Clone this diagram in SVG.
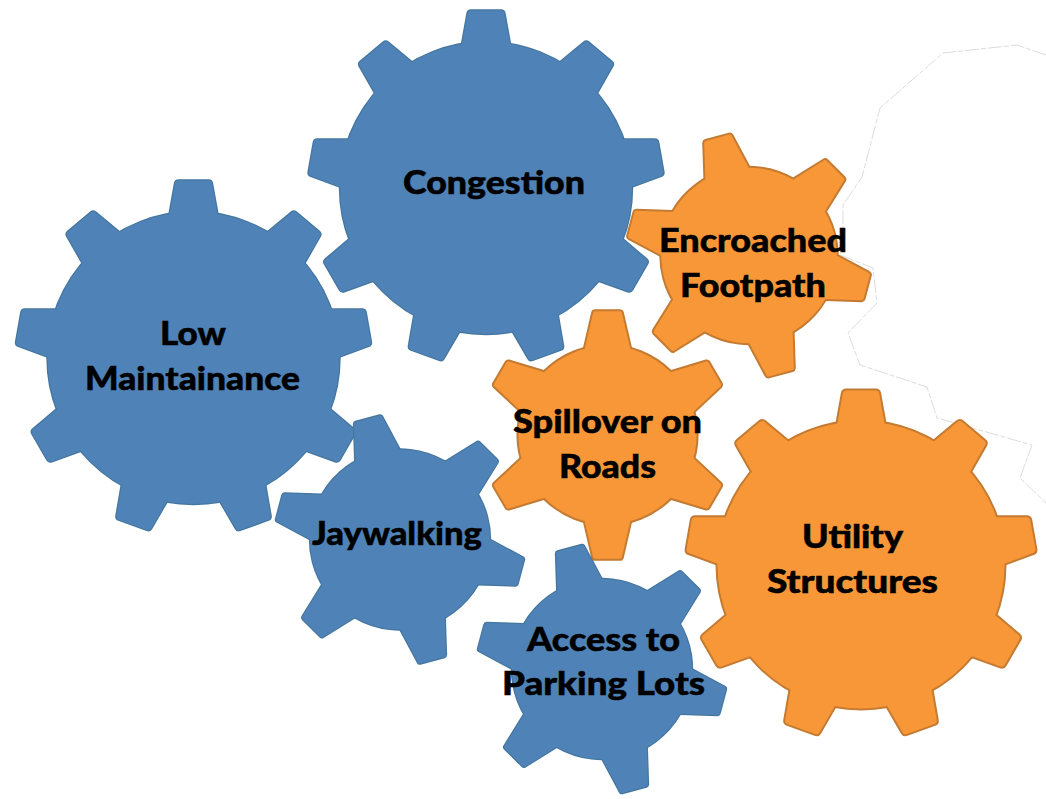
<svg xmlns="http://www.w3.org/2000/svg" xmlns:xlink="http://www.w3.org/1999/xlink" width="1046" height="799" viewBox="0 0 1046 799">
<style>
.line{fill:none;stroke:#dcdcdc;stroke-width:1;stroke-dasharray:14 2 5 2}
.blue .edge{fill:#44769f;stroke:#44769f;stroke-width:2.4;stroke-linejoin:round}
.blue .face{fill:#4f83b7}
.orange .edge{fill:#c47a30;stroke:#c47a30;stroke-width:4;stroke-linejoin:round}
.orange .face{fill:#f89737}
text{font-family:Lato,"Liberation Sans",sans-serif;font-weight:900;font-size:32px;fill:#000;stroke:#000;stroke-width:.5;text-anchor:start}
</style>
<defs>
<path id="t9" d="M-24,-125 V-144 L-18.5,-174.5 Q-18,-177.5 -15,-177.5 H15 Q18,-177.5 18.5,-174.5 L24,-144 V-125 Z"/>
<path id="t6" d="M-23,-70 V-87 L-14.5,-123.5 Q-14,-125 -12.5,-125 H12.5 Q14,-125 14.5,-123.5 L23,-87 V-70 Z"/>
<g id="g9">
<circle r="146"/>
<use xlink:href="#t9" href="#t9"/>
<use xlink:href="#t9" href="#t9" transform="rotate(40)"/>
<use xlink:href="#t9" href="#t9" transform="rotate(80)"/>
<use xlink:href="#t9" href="#t9" transform="rotate(120)"/>
<use xlink:href="#t9" href="#t9" transform="rotate(160)"/>
<use xlink:href="#t9" href="#t9" transform="rotate(200)"/>
<use xlink:href="#t9" href="#t9" transform="rotate(240)"/>
<use xlink:href="#t9" href="#t9" transform="rotate(280)"/>
<use xlink:href="#t9" href="#t9" transform="rotate(320)"/>
</g>
<g id="g6">
<circle r="90"/>
<use xlink:href="#t6" href="#t6"/>
<use xlink:href="#t6" href="#t6" transform="rotate(60)"/>
<use xlink:href="#t6" href="#t6" transform="rotate(120)"/>
<use xlink:href="#t6" href="#t6" transform="rotate(180)"/>
<use xlink:href="#t6" href="#t6" transform="rotate(240)"/>
<use xlink:href="#t6" href="#t6" transform="rotate(300)"/>
</g>
</defs>
<rect width="1046" height="799" fill="#fff"/>
<path class="line" d="M1046,55 L1017,45 L943,53 L880,108 L862,177 L843,205 L843,243 L840,255 L873,268 L877,303 L848,333 L860,365 L927,387 L937,418 L1032,445 L1020,478 L1046,503"/>
<g id="connectors"></g>

<g id="low-maintainance" class="blue">
<use class="edge" href="#g9" xlink:href="#g9" transform="translate(193.5,358)"/>
<use class="face" href="#g9" xlink:href="#g9" transform="translate(193.5,358)"/>
<text x="160" y="345" textLength="66" lengthAdjust="spacingAndGlyphs">Low</text>
<text x="85" y="390" textLength="215" lengthAdjust="spacingAndGlyphs">Maintainance</text>
</g>
<g id="congestion" class="blue">
<use class="edge" href="#g9" xlink:href="#g9" transform="translate(486,188)"/>
<use class="face" href="#g9" xlink:href="#g9" transform="translate(486,188)"/>
<text x="403" y="194" textLength="182" lengthAdjust="spacingAndGlyphs">Congestion</text>
</g>
<g id="encroached-footpath" class="orange">
<use class="edge" href="#g6" xlink:href="#g6" transform="translate(749,255.5) rotate(-15) scale(.975)"/>
<use class="face" href="#g6" xlink:href="#g6" transform="translate(749,255.5) rotate(-15) scale(.975)"/>
<text x="659" y="252" textLength="188" lengthAdjust="spacingAndGlyphs">Encroached</text>
<text x="680" y="297" textLength="146" lengthAdjust="spacingAndGlyphs">Footpath</text>
</g>
<g id="utility-structures" class="orange">
<use class="edge" href="#g9" xlink:href="#g9" transform="translate(861,565) scale(.983)"/>
<use class="face" href="#g9" xlink:href="#g9" transform="translate(861,565) scale(.983)"/>
<text x="802" y="548" textLength="101" lengthAdjust="spacingAndGlyphs">Utility</text>
<text x="767" y="593" textLength="171" lengthAdjust="spacingAndGlyphs">Structures</text>
</g>
<g id="spillover-on-roads" class="orange">
<use class="edge" href="#g6" xlink:href="#g6" transform="translate(607.5,435) scale(.99)"/>
<use class="face" href="#g6" xlink:href="#g6" transform="translate(607.5,435) scale(.99)"/>
<text x="513" y="433" textLength="189" lengthAdjust="spacingAndGlyphs">Spillover on</text>
<text x="559" y="478" textLength="97" lengthAdjust="spacingAndGlyphs">Roads</text>
</g>
<g id="jaywalking" class="blue">
<use class="edge" href="#g6" xlink:href="#g6" transform="translate(400,539.5) rotate(-15)"/>
<use class="face" href="#g6" xlink:href="#g6" transform="translate(400,539.5) rotate(-15)"/>
<text x="312" y="545" textLength="170" lengthAdjust="spacingAndGlyphs">Jaywalking</text>
</g>
<g id="access-to-parking-lots" class="blue">
<use class="edge" href="#g6" xlink:href="#g6" transform="translate(602,669) rotate(-15)"/>
<use class="face" href="#g6" xlink:href="#g6" transform="translate(602,669) rotate(-15)"/>
<text x="527" y="651" textLength="153" lengthAdjust="spacingAndGlyphs">Access to</text>
<text x="502" y="695" textLength="203" lengthAdjust="spacingAndGlyphs">Parking Lots</text>
</g>
</svg>
